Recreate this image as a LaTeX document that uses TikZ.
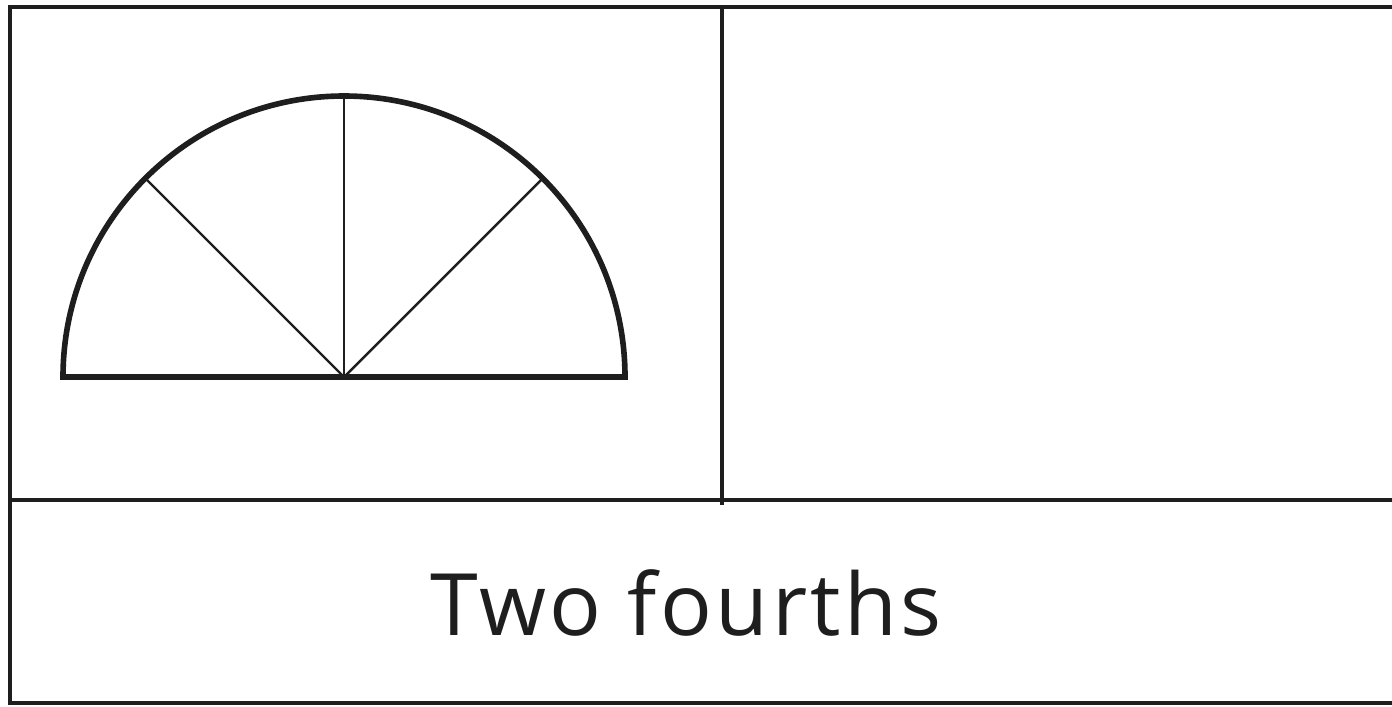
\documentclass[tikz,border=0pt]{standalone}
\usepackage{fontspec}
\setmainfont{Open Sans}
\newfontfamily\capfont[LetterSpace=4.0]{Open Sans}
\usetikzlibrary{positioning,calc}
\definecolor{inkgray}{RGB}{30,30,30}

\begin{document}
\begin{tikzpicture}[
  frame/.style={draw=inkgray, line width=1.0pt},
  rim/.style={draw=inkgray, line width=1.6pt},
  spoke/.style={draw=inkgray, line width=0.7pt},
  caption/.style={font=\capfont\fontsize{24.5}{29}\selectfont, text=inkgray, inner sep=0pt}
]
  \useasboundingbox (0,0) rectangle (13.92,7.06);
  % outer frame and grid
  \draw[frame] (13.98,6.99) -- (0.10,6.99) -- (0.10,0.03) -- (13.98,0.03);
  \coordinate (midL) at (0.12,2.06);
  \coordinate (midR) at (13.98,2.06);
  \coordinate (divT) at (7.22,6.99);
  \coordinate (divB) at (7.22,2.01);
  \draw[frame] (midL) -- (midR);
  \draw[frame] (divT) -- (divB);
  % half circle cut in four
  \coordinate (ctr) at (3.44,3.29);
  \coordinate (east) at ($(ctr)+(0:2.81)$);
  \coordinate (west) at ($(ctr)+(180:2.81)$);
  \foreach \a/\n in {45/s1, 90/s2, 135/s3}
    \coordinate (\n) at ($(ctr)+(\a:2.81)$);
  \foreach \n in {s1, s2, s3}
    \draw[spoke] (ctr) -- (\n);
  \draw[rim] (west) -- (east) arc[start angle=0, end angle=180, radius=2.81] -- cycle;
  % label
  \node[caption] (label) at (6.86,1.03) {Two fourths};
\end{tikzpicture}
\end{document}
